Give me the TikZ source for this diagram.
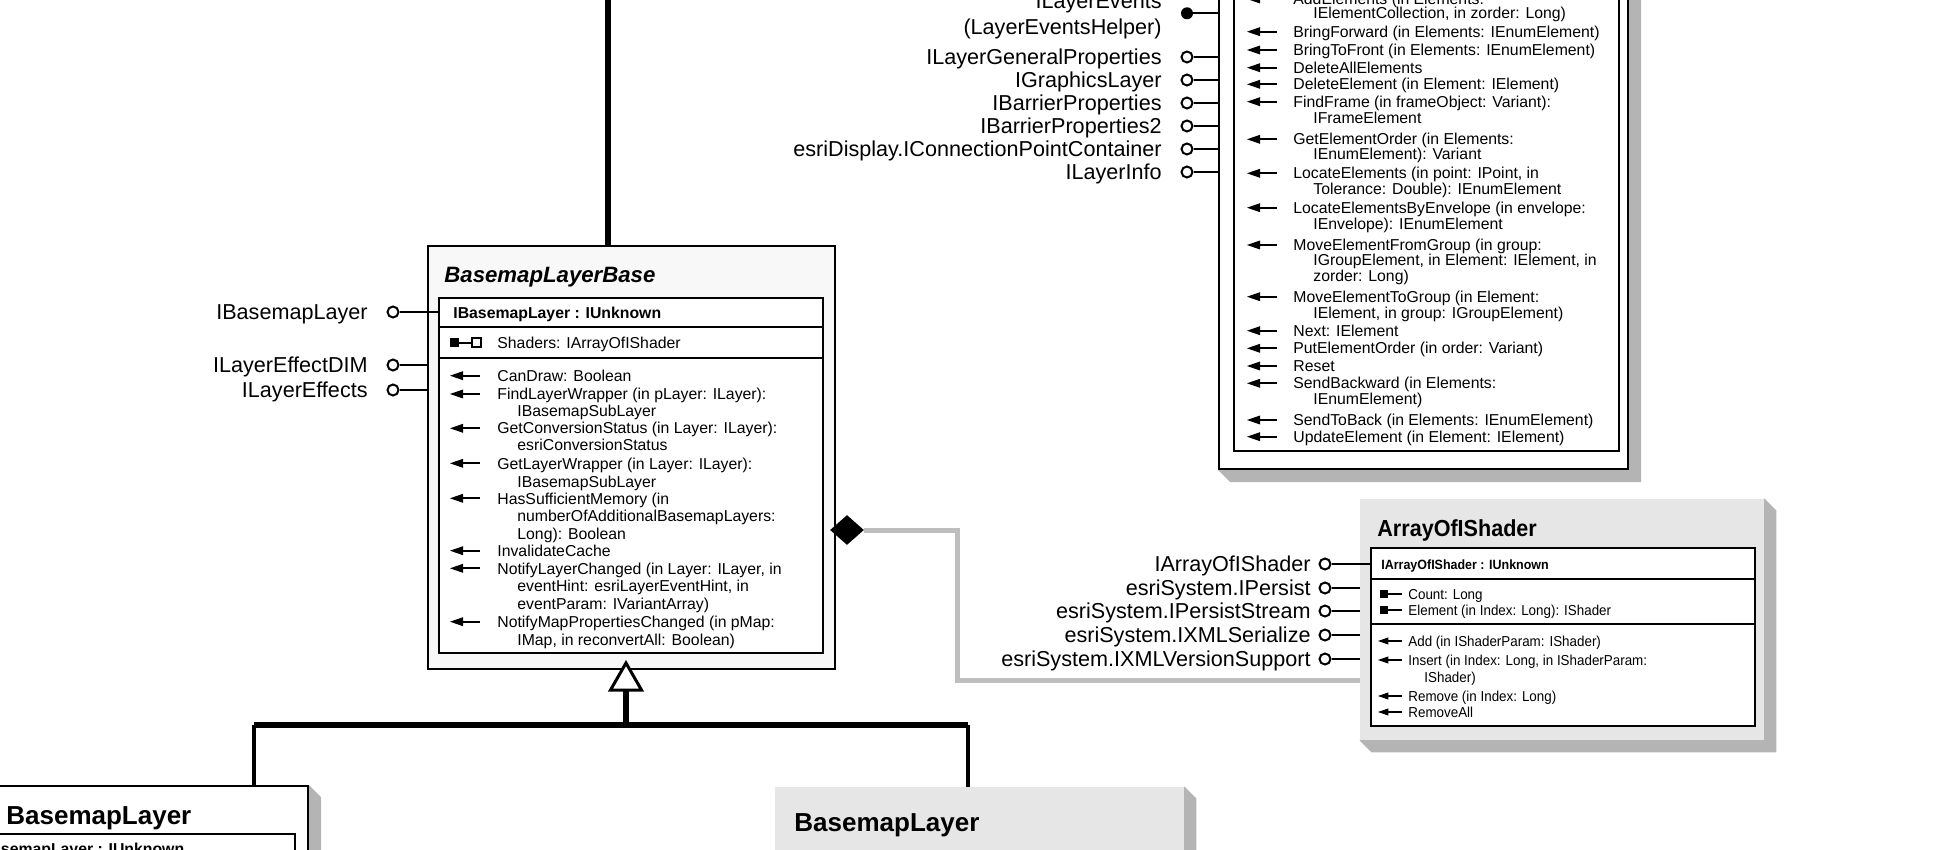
\documentclass[tikz,border=0pt]{standalone}
\usepackage{fontspec}
\setmainfont{Liberation Sans}
\newfontfamily\schmal[FakeStretch=0.93]{Liberation Sans}
\usetikzlibrary{fit,backgrounds,shapes.geometric}

\definecolor{kastengrau}{RGB}{230,230,230}
\definecolor{schatten}{RGB}{180,180,180}
\definecolor{abstrakt}{RGB}{248,248,248}
\definecolor{linie}{RGB}{190,190,190}

\tikzset{
  member/.style={anchor=west, inner sep=0pt, font=\fontsize{7.9pt}{9pt}\selectfont,
    text height=5.7pt, text depth=0pt},
  kopf/.style={member, font=\fontsize{7.9pt}{9pt}\selectfont\bfseries},
  klein/.style={member, font=\schmal\fontsize{7.2pt}{8pt}\selectfont, text height=5.1pt},
  kleinkopf/.style={klein, font=\schmal\fontsize{6.7pt}{8pt}\selectfont\bfseries},
  iface/.style={anchor=east, inner sep=0pt, font=\fontsize{10.8pt}{12pt}\selectfont,
    text height=7.7pt, text depth=0pt},
  titel/.style={anchor=west, inner sep=0pt, font=\fontsize{13pt}{15pt}\selectfont\bfseries,
    text height=9.3pt, text depth=0pt},
  lolli/.style={circle, draw, fill=white, line width=1pt, minimum size=5.5pt, inner sep=0pt},
  kasten/.style={inner sep=0pt, draw, line width=1pt, fill=white},
  grauerkasten/.style={inner sep=0pt, fill=kastengrau},
  duenn/.style={line width=1pt},
  dick/.style={line width=3pt},
  verbindung/.style={line width=2.5pt, draw=linie},
  meth/.pic={\fill (0,0) -- (13,-4.5) -- (13,4.5) -- cycle;
    \draw[line width=1pt] (11,0) -- (30,0);},
  eigen/.pic={\fill (0,-4) rectangle (8,4); \draw[line width=1pt] (8,0) -- (22,0);},
  eigenref/.pic={\fill (0,-4.5) rectangle (9,4.5); \draw[line width=1pt] (9,0) -- (22,0);
    \draw[line width=1pt, fill=white] (22,-4.5) rectangle (31,4.5);}
}

\newcommand{\Schatten}[1]{%
  \begin{scope}[on background layer]
    \fill[schatten] (#1.south west) -- ++(12,12) -| ([shift={(12,12)}]#1.north east)
      -- (#1.north east) -- cycle;
  \end{scope}}

\begin{document}
\begin{tikzpicture}[x=0.5pt,y=-0.5pt]
  \useasboundingbox (0,0) rectangle (1945,850);
  \clip (0,0) rectangle (1945,850);

  % Klasse oben rechts (abgeschnitten)
  \node[kasten, fit={(1219,-60) (1628,469)}] (grafik) {};
  \Schatten{grafik}
  \node[kasten, fit={(1234,-40) (1619,451)}] (grafik-innen) {};
  \foreach \y/\t [count=\i] in {-1/{AddElements (in Elements:},
      31.7/{BringForward (in Elements: IEnumElement)}, 50/{BringToFront (in Elements: IEnumElement)},
      67.7/DeleteAllElements, 84.3/{DeleteElement (in Element: IElement)},
      101.7/{FindFrame (in frameObject: Variant):}, 139.3/{GetElementOrder (in Elements:},
      173.3/{LocateElements (in point: IPoint, in}, 207.7/{LocateElementsByEnvelope (in envelope:},
      245/{MoveElementFromGroup (in group:}, 296.7/{MoveElementToGroup (in Element:},
      330.7/{Next: IElement}, 348.3/{PutElementOrder (in order: Variant)}, 366/Reset,
      383.3/{SendBackward (in Elements:}, 420/{SendToBack (in Elements: IEnumElement)},
      436.7/{UpdateElement (in Element: IElement)}} {
    \pic at (1247,\y) {meth};
    \node[member] (gm-\i) at (1293,\y) {\t};
  }
  \foreach \y/\t [count=\i] in {13.3/{IElementCollection, in zorder: Long)}, 118.3/IFrameElement,
      154/{IEnumElement): Variant}, 189.3/{Tolerance: Double): IEnumElement},
      224/{IEnvelope): IEnumElement}, 260/{IGroupElement, in Element: IElement, in},
      276/{zorder: Long)}, 312.7/{IElement, in group: IGroupElement)}, 399.3/{IEnumElement)}}
    \node[member] (gz-\i) at (1313,\y) {\t};

  % Schnittstellen oben
  \node[iface] (ev-1) at (1162,1) {ILayerEvents};
  \node[iface] (ev-2) at (1162,27) {(LayerEventsHelper)};
  \node[circle, fill, minimum size=6pt, inner sep=0pt] (ev) at (1187,13.3) {};
  \draw[duenn] (ev) -- (ev -| grafik.west);
  \foreach \y/\t [count=\i] in {57/ILayerGeneralProperties, 80/IGraphicsLayer,
      103/IBarrierProperties, 126/IBarrierProperties2,
      149/esriDisplay.IConnectionPointContainer, 172/ILayerInfo} {
    \node[iface] (gl-\i) at (1162,\y) {\t};
    \node[lolli] (gc-\i) at (1187,\y) {};
    \draw[duenn] (gc-\i) -- (gc-\i -| grafik.west);
  }

  % abstrakte Klasse BasemapLayerBase
  \coordinate (oben) at (608,-10);
  \node[kasten, fill=abstrakt, fit={(428,246) (835,669)}] (basis) {};
  \draw[dick] (oben) -- (oben |- basis.north);
  \node[titel, font=\fontsize{11.1pt}{13pt}\selectfont\bfseries\itshape, text height=8pt]
    (basis-titel) at (444,275) {BasemapLayerBase};
  \node[kasten, fit={(439,298) (823,653)}] (basis-innen) {};
  \draw[duenn] (439,327) -- (823,327);
  \draw[duenn] (439,358) -- (823,358);
  \node[kopf] (basis-kopf) at (453,313) {IBasemapLayer : IUnknown};
  \pic at (450,343) {eigenref};
  \node[member] (basis-shaders) at (497,343) {Shaders: IArrayOfIShader};
  \foreach \y/\t [count=\i] in {375.7/{CanDraw: Boolean}, 394/{FindLayerWrapper (in pLayer: ILayer):},
      428.3/{GetConversionStatus (in Layer: ILayer):}, 463.3/{GetLayerWrapper (in Layer: ILayer):},
      498.3/{HasSufficientMemory (in}, 550.7/InvalidateCache,
      568.3/{NotifyLayerChanged (in Layer: ILayer, in}, 621.7/{NotifyMapPropertiesChanged (in pMap:}} {
    \pic at (450,\y) {meth};
    \node[member] (bm-\i) at (497,\y) {\t};
  }
  \foreach \y/\t [count=\i] in {410.7/IBasemapSubLayer, 445/esriConversionStatus,
      481.7/IBasemapSubLayer, 516/{numberOfAdditionalBasemapLayers:}, 533.3/{Long): Boolean},
      586/{eventHint: esriLayerEventHint, in}, 603.3/{eventParam: IVariantArray)},
      639.3/{IMap, in reconvertAll: Boolean)}}
    \node[member] (bz-\i) at (517,\y) {\t};

  % Schnittstellen links
  \node[iface] (bl-1) at (368,312) {IBasemapLayer};
  \node[lolli] (bc-1) at (393,312) {};
  \draw[duenn] (bc-1) -- (bc-1 -| basis-innen.west);
  \foreach \y/\t [count=\i from 2] in {365/ILayerEffectDIM, 390/ILayerEffects} {
    \node[iface] (bl-\i) at (368,\y) {\t};
    \node[lolli] (bc-\i) at (393,\y) {};
    \draw[duenn] (bc-\i) -- (bc-\i -| basis.west);
  }

  % Klasse ArrayOfIShader
  \node[grauerkasten, fit={(1360,499) (1764,740)}] (array) {};
  \Schatten{array}
  \node[titel, font=\schmal\fontsize{11.6pt}{13pt}\selectfont\bfseries, text height=8.3pt]
    (array-titel) at (1377,528) {ArrayOfIShader};
  \node[kasten, fit={(1371,548) (1755,726)}] (array-innen) {};
  \draw[duenn] (1371,579) -- (1755,579);
  \draw[duenn] (1371,624) -- (1755,624);
  \node[kleinkopf] (array-kopf) at (1381,564) {IArrayOfIShader : IUnknown};
  \foreach \y/\t [count=\i] in {594/{Count: Long}, 610/{Element (in Index: Long): IShader}} {
    \pic at (1380,\y) {eigen};
    \node[klein] (ae-\i) at (1408,\y) {\t};
  }
  \foreach \y/\t [count=\i] in {641/{Add (in IShaderParam: IShader)},
      660/{Insert (in Index: Long, in IShaderParam:}, 696/{Remove (in Index: Long)}, 712/RemoveAll} {
    \pic[scale=0.8] at (1378,\y) {meth};
    \node[klein] (am-\i) at (1408,\y) {\t};
  }
  \node[klein] (az-1) at (1424,677) {IShader)};

  % Schnittstellen ArrayOfIShader
  \node[iface] (al-1) at (1311,564) {IArrayOfIShader};
  \node[lolli] (ac-1) at (1325,564) {};
  \draw[duenn] (ac-1) -- (ac-1 -| array-innen.west);
  \foreach \y/\t [count=\i from 2] in {588/esriSystem.IPersist, 611/esriSystem.IPersistStream,
      635/esriSystem.IXMLSerialize, 659/esriSystem.IXMLVersionSupport} {
    \node[iface] (al-\i) at (1311,\y) {\t};
    \node[lolli] (ac-\i) at (1325,\y) {};
    \draw[duenn] (ac-\i) -- (ac-\i -| array.west);
  }

  % Komposition
  \node[diamond, fill, minimum width=17pt, minimum height=15pt, inner sep=0pt] (raute) at (847,530) {};
  \coordinate (knick) at (957,680);
  \draw[verbindung] (raute.east) -| (knick) -- (knick -| array.west);

  % Unterklassen
  \node[kasten, fit={(-100,786) (308,1000)}] (links) {};
  \Schatten{links}
  \node[titel] (links-titel) at (6,815) {BasemapLayer};
  \node[kasten, fit={(-100,834) (295,1000)}] (links-innen) {};
  \node[kopf] (links-kopf) at (-24,849) {IBasemapLayer : IUnknown};
  \node[grauerkasten, fit={(775,787) (1184,1000)}] (rechts) {};
  \Schatten{rechts}
  \node[titel] (rechts-titel) at (794,822) {BasemapLayer};

  % Vererbung
  \coordinate (spitze) at (626,663);
  \coordinate (knoten) at (626,725);
  \coordinate (ast-l) at (254,725);
  \coordinate (ast-r) at (968,725);
  \draw[dick] (ast-l) -- (ast-r);
  \draw[line width=2pt] (ast-l) -- (ast-l |- links.north);
  \draw[line width=2pt] (ast-r) -- (ast-r |- rechts.north);
  \draw[dick] (knoten) -- ++(0,-36);
  \draw[line width=1.5pt, fill=white] (spitze) -- ++(15.5,27) -- ++(-31,0) -- cycle;
\end{tikzpicture}
\end{document}
